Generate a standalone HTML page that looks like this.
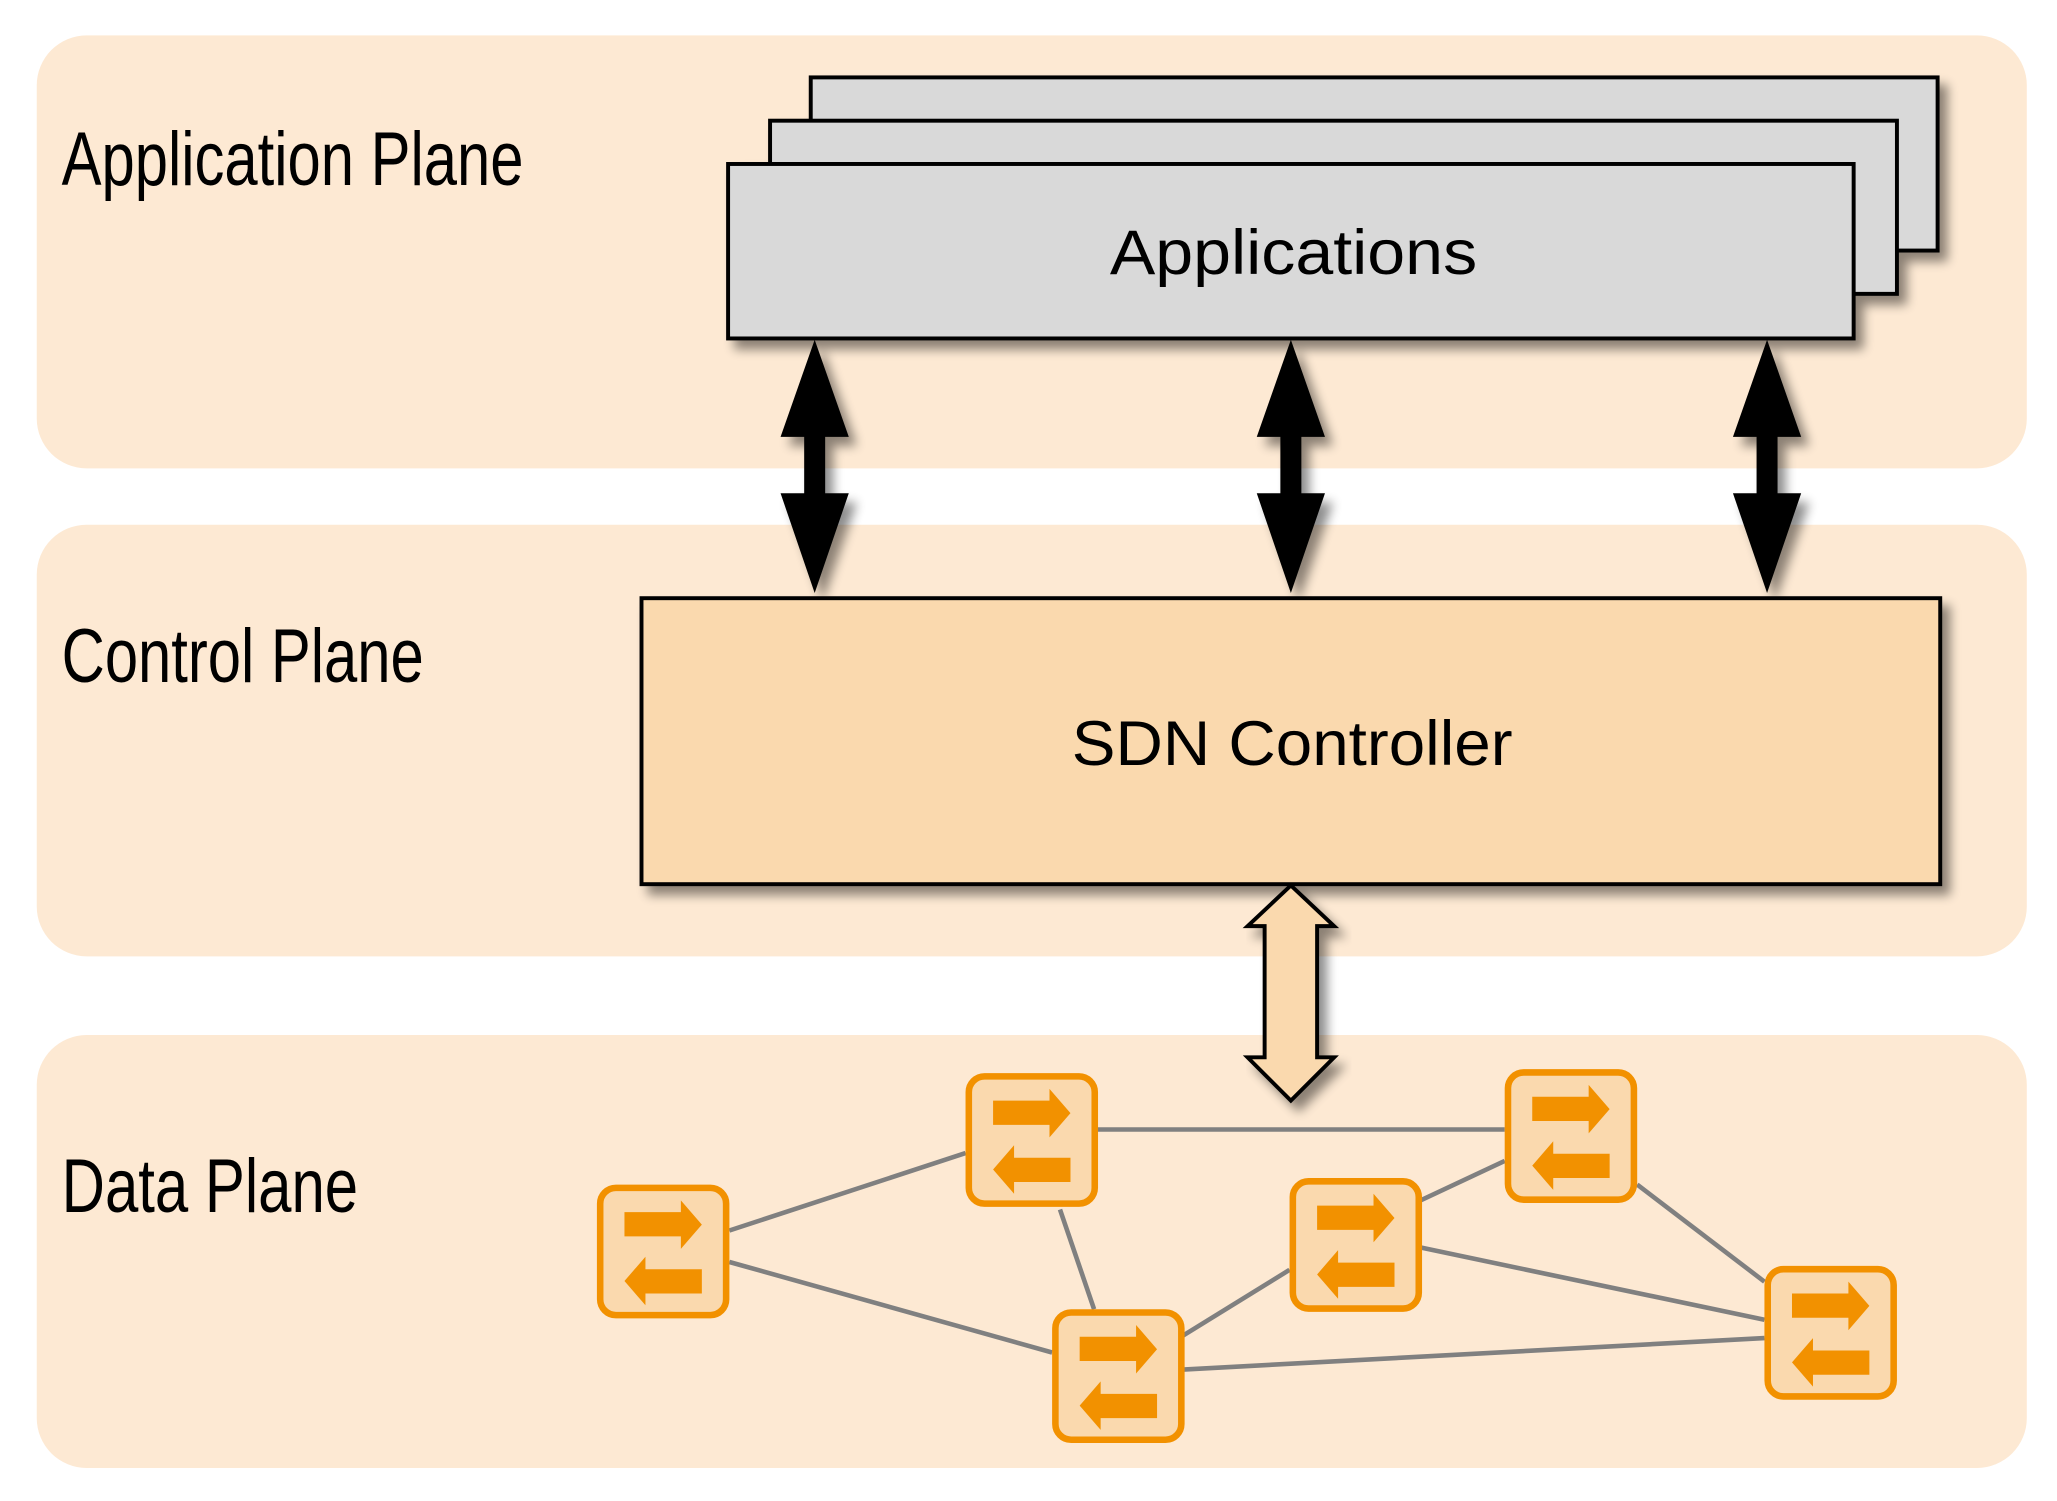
<!DOCTYPE html>
<html><head><meta charset="utf-8"><style>
html,body{margin:0;padding:0;background:#fff;}
svg{display:block;}
</style></head><body>
<svg xmlns="http://www.w3.org/2000/svg" width="2057" height="1501" viewBox="0 0 1568 1144.2">
<defs>
<filter id="sh" x="-10%" y="-10%" width="130%" height="140%">
<feGaussianBlur in="SourceAlpha" stdDeviation="4"/>
<feOffset dx="6" dy="7" result="b"/>
<feComponentTransfer><feFuncA type="linear" slope="0.45"/></feComponentTransfer>
<feMerge><feMergeNode/><feMergeNode in="SourceGraphic"/></feMerge>
</filter>
<g id="sw">
<rect x="2.5" y="2.5" width="96" height="97" rx="12" fill="#fad9ae" stroke="#f29100" stroke-width="5"/>
<polygon fill="#f29100" points="21,21 64,21 64,12 80,30.5 64,49 64,39.5 21,39.5"/>
<polygon fill="#f29100" points="21,73.5 37,55 37,64.5 80,64.5 80,83 37,83 37,92"/>
</g>
</defs>
<g fill="#fde9d3">
<rect x="28" y="27" width="1517" height="330" rx="38"/>
<rect x="28" y="400" width="1517" height="329" rx="38"/>
<rect x="28" y="789" width="1517" height="330" rx="38"/>
</g>
<g font-family="Liberation Sans, sans-serif" font-size="58" fill="#000">
<text x="47" y="141" textLength="352" lengthAdjust="spacingAndGlyphs">Application Plane</text>
<text x="47" y="520" textLength="276" lengthAdjust="spacingAndGlyphs">Control Plane</text>
<text x="47" y="924" textLength="226" lengthAdjust="spacingAndGlyphs">Data Plane</text>
</g>
<g filter="url(#sh)" stroke="#000" stroke-width="3" fill="#d9d9d9">
<rect x="618" y="59" width="859" height="132"/>
<rect x="587" y="92" width="859" height="132"/>
<rect x="555" y="125" width="858" height="133"/>
</g>
<text x="986" y="209" text-anchor="middle" font-family="Liberation Sans, sans-serif" font-size="48" textLength="280" lengthAdjust="spacingAndGlyphs">Applications</text>
<g filter="url(#sh)" fill="#000">
<polygon points="621,259 647,333 629,333 629,376 647,376 621,452 595,376 613,376 613,333 595,333"/>
<polygon points="984,259 1010,333 992,333 992,376 1010,376 984,452 958,376 976,376 976,333 958,333"/>
<polygon points="1347,259 1373,333 1355,333 1355,376 1373,376 1347,452 1321,376 1339,376 1339,333 1321,333"/>
</g>
<rect x="489" y="456" width="990" height="218" fill="#fad9ae" stroke="#000" stroke-width="3" filter="url(#sh)"/>
<text x="985" y="583" text-anchor="middle" font-family="Liberation Sans, sans-serif" font-size="48" textLength="336" lengthAdjust="spacingAndGlyphs">SDN Controller</text>
<polygon filter="url(#sh)" fill="#fad9ae" stroke="#000" stroke-width="3" stroke-linejoin="miter" points="984,675 1017,706 1004,706 1004,806 1017,806 984,839 951,806 964,806 964,706 951,706"/>
<g stroke="#808080" stroke-width="3.5">
<line x1="556" y1="938" x2="736" y2="879"/>
<line x1="556" y1="962" x2="802" y2="1031"/>
<line x1="808" y1="922" x2="834" y2="998"/>
<line x1="836" y1="861" x2="1147" y2="861"/>
<line x1="902" y1="1018" x2="983" y2="968"/>
<line x1="902" y1="1044" x2="1345" y2="1020"/>
<line x1="1083" y1="915" x2="1147" y2="885"/>
<line x1="1083" y1="951" x2="1345" y2="1006"/>
<line x1="1248" y1="903" x2="1345" y2="977"/>
</g>
<use href="#sw" x="455" y="903"/>
<use href="#sw" x="736" y="818"/>
<use href="#sw" x="802" y="998"/>
<use href="#sw" x="983" y="898"/>
<use href="#sw" x="1147" y="815"/>
<use href="#sw" x="1345" y="965"/>
</svg>
</body></html>
